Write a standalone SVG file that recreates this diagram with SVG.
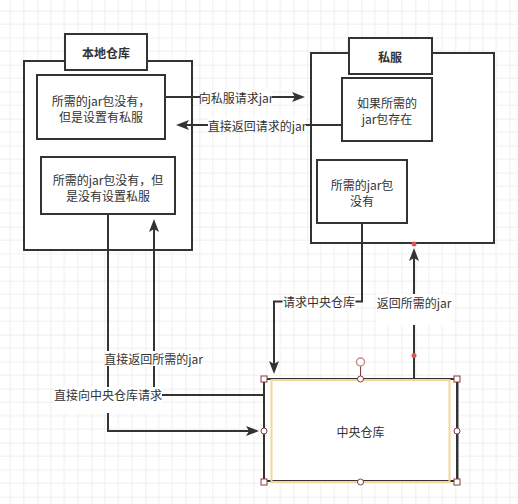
<svg xmlns="http://www.w3.org/2000/svg" width="518" height="504" viewBox="0 0 518 504">
<defs>
<pattern id="grid" patternUnits="userSpaceOnUse" x="37.3" y="10.7" width="54" height="54">
<path d="M13.5,0V54M27,0V54M40.5,0V54M0,13.5H54M0,27H54M0,40.5H54" stroke="#efefef" stroke-width="1" fill="none"/>
<path d="M0,0V54M0,0H54" stroke="#e0e0e0" stroke-width="1" fill="none"/>
</pattern>
<marker id="arr" markerUnits="userSpaceOnUse" markerWidth="14" markerHeight="12" refX="9" refY="5" orient="auto">
<path d="M0,0 L13,5 L0,10 L3,5 Z" fill="#333"/>
</marker>
</defs>
<style>
.box{fill:#fff;stroke:#333;stroke-width:2}
.t{font-family:"Noto Sans CJK SC","Microsoft YaHei",sans-serif;font-size:12px;fill:#333;text-anchor:middle;dominant-baseline:central}
.b{font-weight:bold}
.c{fill:none;stroke:#333;stroke-width:2}
.lb{fill:#fff}
.h{fill:#fff;stroke:#8a3a3a;stroke-width:1}
</style>
<rect width="518" height="504" fill="#fff"/>
<rect width="518" height="504" fill="url(#grid)"/>

<g id="local">
<rect class="box" x="24" y="61" width="168" height="189"/>
<rect class="box" x="65" y="34" width="82" height="36"/>
<text class="t b" x="106" y="52">本地仓库</text>
</g>
<g id="local-has-server">
<rect class="box" x="37" y="75" width="128" height="64"/>
<text class="t" x="101" y="100">所需的jar包没有，</text>
<text class="t" x="101" y="116">但是设置有私服</text>
</g>
<g id="local-no-server">
<rect class="box" x="41" y="157" width="134" height="57"/>
<text class="t" x="108" y="179">所需的jar包没有，但</text>
<text class="t" x="108" y="195">是没有设置私服</text>
</g>

<g id="private">
<rect class="box" x="311" y="53" width="183" height="190"/>
<rect class="box" x="349" y="38" width="83" height="36"/>
<text class="t b" x="390" y="56">私服</text>
</g>
<g id="private-exists">
<rect class="box" x="342" y="78" width="90" height="63"/>
<text class="t" x="387" y="102">如果所需的</text>
<text class="t" x="387" y="118">jar包存在</text>
</g>
<g id="private-missing">
<rect class="box" x="317" y="160" width="90" height="63"/>
<text class="t" x="362" y="184">所需的jar包</text>
<text class="t" x="362" y="200">没有</text>
</g>

<g id="central">
<rect x="264" y="379" width="193" height="102" fill="#fff" stroke="#333" stroke-width="2"/>
<rect x="271.5" y="380" width="178" height="102" fill="none" stroke="#f5d69a" stroke-width="2"/>
<line x1="458.5" y1="380" x2="458.5" y2="481" stroke="#999" stroke-width="1"/>
<text class="t" x="360.5" y="431">中央仓库</text>
</g>

<g id="connectors">
<path class="c" d="M165,97 H301" marker-end="url(#arr)"/>
<path class="c" d="M342,125 H180" marker-end="url(#arr)"/>
<path class="c" d="M108,214 V431 H255" marker-end="url(#arr)"/>
<path class="c" d="M264,395 H154 V223" marker-end="url(#arr)"/>
<path class="c" d="M362,223 V301.5 H274 V370" marker-end="url(#arr)"/>
<path class="c" d="M414,379 V252" marker-end="url(#arr)"/>
</g>

<g id="labels">
<rect class="lb" x="200" y="90" width="72" height="14"/>
<text class="t" x="236" y="97">向私服请求jar</text>
<rect class="lb" x="208" y="118" width="98" height="14"/>
<text class="t" x="257" y="125">直接返回请求的jar</text>
<rect class="lb" x="105" y="351" width="97" height="15"/>
<text class="t" x="153.5" y="358">直接返回所需的jar</text>
<rect class="lb" x="54" y="387" width="108" height="26"/>
<text class="t" x="108" y="394">直接向中央仓库请求</text>
<rect class="lb" x="282.5" y="295" width="73" height="14"/>
<text class="t" x="319" y="301.5">请求中央仓库</text>
<rect class="lb" x="377" y="294" width="75" height="31"/>
<text class="t" x="414" y="302">返回所需的jar</text>
</g>

<g id="selection">
<line x1="360.5" y1="366" x2="360.5" y2="379" stroke="#8a3a3a" stroke-width="1"/>
<circle cx="360.5" cy="362" r="4" fill="#fff" stroke="#c98a8a" stroke-width="1.5"/>
<rect class="h" x="261" y="376" width="6" height="6"/>
<rect class="h" x="454" y="376" width="6" height="6"/>
<rect class="h" x="261" y="479" width="6" height="6"/>
<rect class="h" x="454" y="479" width="6" height="6"/>
<circle class="h" cx="360.5" cy="379" r="3"/>
<circle class="h" cx="360.5" cy="482" r="3"/>
<circle class="h" cx="264" cy="431" r="3"/>
<circle class="h" cx="457" cy="431" r="3"/>
<circle cx="414" cy="355.5" r="2.5" fill="#e05555"/>
<circle cx="414" cy="244" r="2.5" fill="#e05555"/>
</g>
</svg>
